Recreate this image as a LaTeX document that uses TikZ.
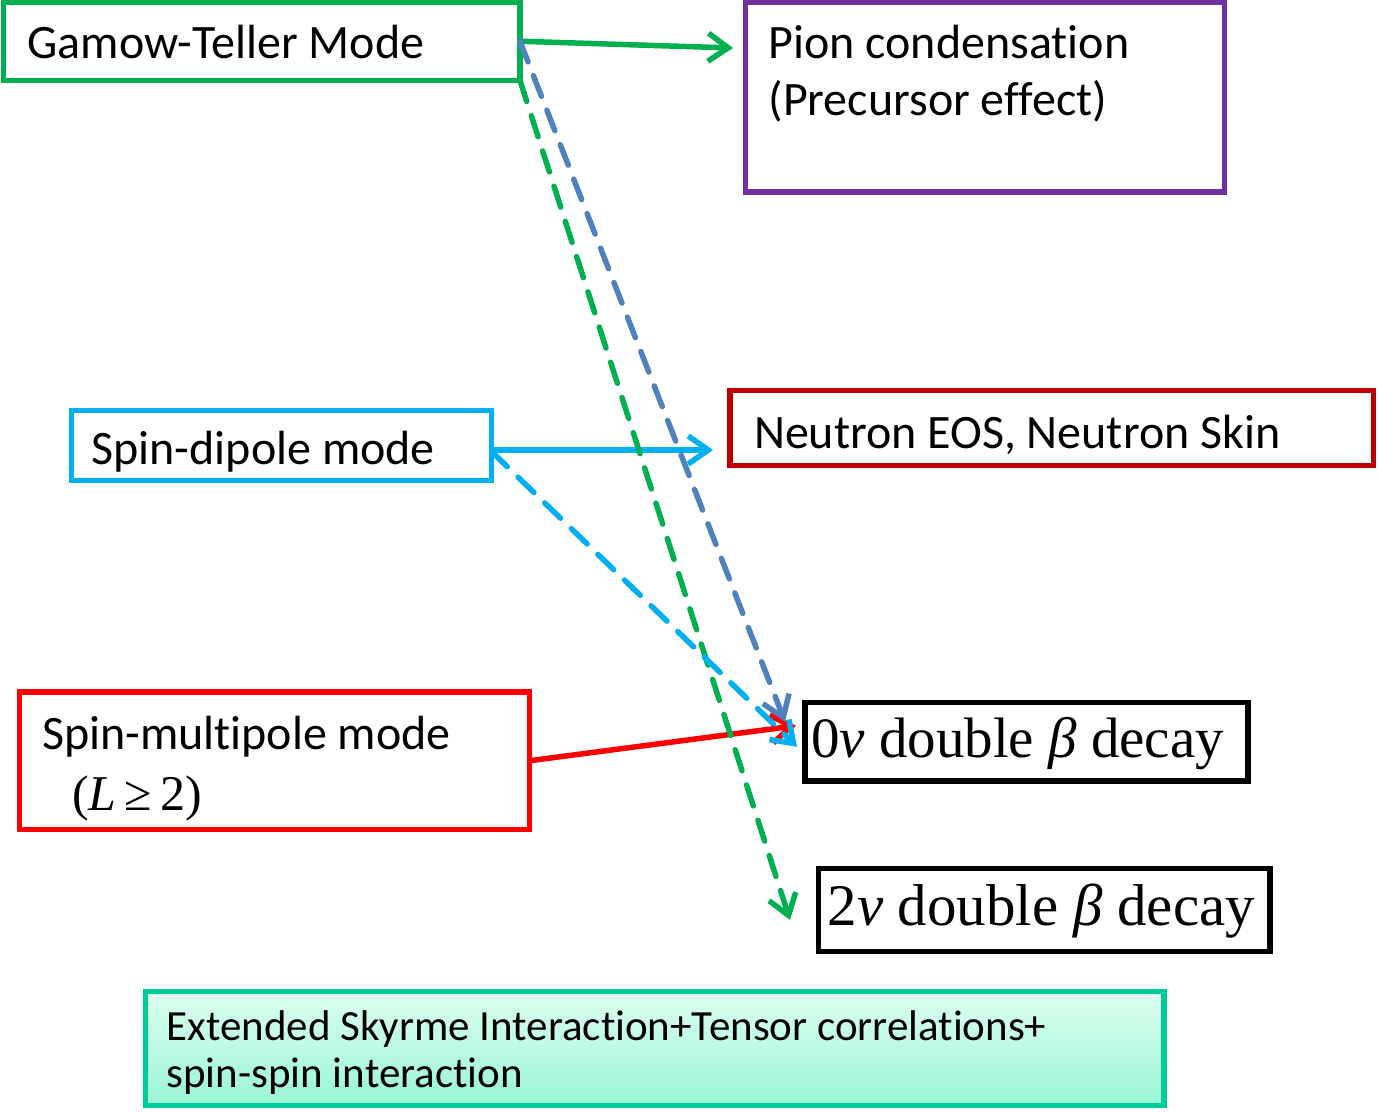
\documentclass[tikz,border=0pt]{standalone}
\usepackage{fontspec}
\setmainfont{Carlito}[Ligatures=NoCommon]
\newfontfamily\tmfont{Liberation Serif}
\usetikzlibrary{arrows.meta}

\definecolor{gtgreen}{HTML}{00B050}
\definecolor{pionpurple}{HTML}{7030A0}
\definecolor{sdcyan}{HTML}{00B0F0}
\definecolor{eosred}{HTML}{C00000}
\definecolor{smred}{HTML}{FF0000}
\definecolor{gtblue}{HTML}{4F81BD}
\definecolor{skyrmeteal}{HTML}{00CC99}
\definecolor{skyrmetop}{HTML}{DDFFF0}
\definecolor{skyrmebot}{HTML}{99F5D5}

\tikzset{
  modebox/.style={draw, line width=5.5pt, align=flush left, inner ysep=0pt, outer sep=0pt,
    anchor=north west, font=\fontsize{48}{57}\selectfont},
  decaybox/.style={modebox, draw=black, font=\tmfont\fontsize{57}{66}\selectfont},
  link/.style={line width=5.5pt, line cap=round,
    -{Straight Barb[length=20pt,width=28pt]}},
  dashlink/.style={link, dash pattern=on 22pt off 15pt},
}

\begin{document}
\begin{tikzpicture}[x=1pt,y=-1pt]
    \useasboundingbox (0,0) rectangle (1378,1113);
    % Modes
    \node[modebox, draw=gtgreen, text width=468.5pt, inner xsep=24pt, text height=57pt, text depth=21.5pt] (gt) at (3.5,2) {Gamow-Teller Mode};
    \node[modebox, draw=sdcyan, text width=380pt, inner xsep=20pt, text height=53.5pt, text depth=16.5pt] (sd) at (71.5,410.5) {Spin-dipole mode};
    \node[modebox, draw=smred, text width=465pt, inner xsep=22.5pt, text height=57pt, text depth=80.5pt] (sm) at (19.5,692)
        {Spin-multipole mode\\[4pt]\hspace*{30pt}{\tmfont\fontsize{50}{60}\selectfont(\textit{L}\,≥\,2)}};
    % Physics
    \node[modebox, draw=pionpurple, text width=433pt, inner xsep=23pt, text height=57pt, text depth=133pt] (pion) at (745.5,2)
        {Pion condensation\\(Precursor effect)};
    \node[modebox, draw=eosred, text width=595.5pt, inner xsep=24pt, text height=57.5pt, text depth=17.5pt] (eos) at (730,390.5) {Neutron EOS, Neutron Skin};
    \node[decaybox, text width=431pt, inner xsep=6pt, text height=54.5pt, text depth=24pt] (zeronu) at (805,702.5) {0\textit{ν} double \textit{β} decay};
    \node[decaybox, text width=433.5pt, inner xsep=9pt, text height=57pt, text depth=26pt, font=\tmfont\fontsize{59}{68}\selectfont] (twonu) at (818.5,868.5)
        {2\textit{ν} double \textit{β} decay};
    % Interaction
    \node[modebox, draw=skyrmeteal, top color=skyrmetop, bottom color=skyrmebot, text width=976.5pt, inner xsep=21pt,
        text height=49pt, text depth=65pt, font=\fontsize{43}{47}\selectfont] (skyrme) at (145.5,991.5)
        {Extended Skyrme Interaction+Tensor correlations+\\spin-spin interaction};

    % Connections
    \draw[link, gtgreen] (gt.east) -- ([shift={(-12.5pt,-46pt)}]pion.north west);
    \draw[link, sdcyan] ([yshift=-4.5pt]sd.east) -- ([shift={(-17pt,-22pt)}]eos.west);
    \draw[link, smred] (sm.east) -- ([shift={(-9pt,16pt)}]zeronu.west);
    \draw[dashlink, gtgreen] (gt.south east) -- ([shift={(-28.5pt,-10pt)}]twonu.west);
    \draw[dashlink, gtblue] (gt.east) -- ([shift={(-20pt,20pt)}]zeronu.west);
    \draw[dashlink, sdcyan] ([yshift=-6pt]sd.east) -- ([shift={(-8pt,-5pt)}]zeronu.west);
\end{tikzpicture}
\end{document}
